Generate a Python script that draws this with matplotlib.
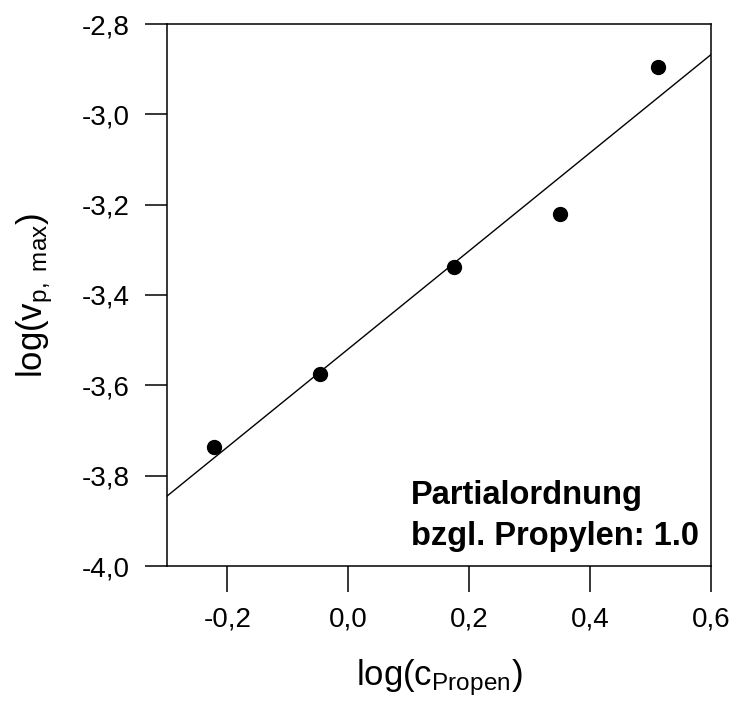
import numpy as np
import matplotlib
matplotlib.use("Agg")
import matplotlib.pyplot as plt
from matplotlib.ticker import FuncFormatter

plt.rcParams['font.family'] = ['Liberation Sans', 'DejaVu Sans']
plt.rcParams['mathtext.fontset'] = 'custom'
plt.rcParams['mathtext.rm'] = 'Liberation Sans'
plt.rcParams['mathtext.it'] = 'Liberation Sans'

# data
log_c = [-0.222, -0.047, 0.174, 0.350, 0.512]
log_v = [-3.736, -3.575, -3.337, -3.221, -2.895]
x_ticks = [-0.2, 0.0, 0.2, 0.4, 0.6]
y_ticks = [-4.0, -3.8, -3.6, -3.4, -3.2, -3.0, -2.8]
annotation = "Partialordnung\nbzgl. Propylen: 1.0"

fig = plt.figure(figsize=(7.32, 7.07), dpi=100)
ax = fig.add_axes([167/732, 1 - 566/707, (711-167)/732, (566-24)/707])

slope, intercept = np.polyfit(log_c, log_v, 1)
xl = np.array([-0.3, 0.6])
ax.plot(xl, slope * xl + intercept, color='black', lw=1.0)
ax.plot(log_c, log_v, 'o', color='black', markersize=10)

ax.set_xlim(-0.3, 0.6)
ax.set_ylim(-4.0, -2.8)
ax.set_xticks(x_ticks)
ax.set_yticks(y_ticks)
fmt = FuncFormatter(lambda v, p: f"{v:.1f}".replace('.', ','))
ax.xaxis.set_major_formatter(fmt)
ax.yaxis.set_major_formatter(fmt)
ax.tick_params(axis='y', direction='out', length=16, width=1.1, labelsize=20, pad=11)
ax.tick_params(axis='x', direction='out', length=18.5, width=1.1, labelsize=20, pad=11)
for s in ax.spines.values():
    s.set_linewidth(1.1)

ax.set_xlabel(r'log(c$_\mathrm{Propen}$)', fontsize=25, va='top')
ax.xaxis.set_label_coords(0.5, -0.168)
ax.set_ylabel(r'log(v$_\mathrm{p,\ max}$)', fontsize=25)
ax.yaxis.set_label_coords(-0.205, 0.5)

ax.text(0.103, -3.953, annotation, fontsize=23.5, fontweight='bold',
        ha='left', va='baseline', linespacing=1.39)

fig.savefig('out.png', dpi=100)
